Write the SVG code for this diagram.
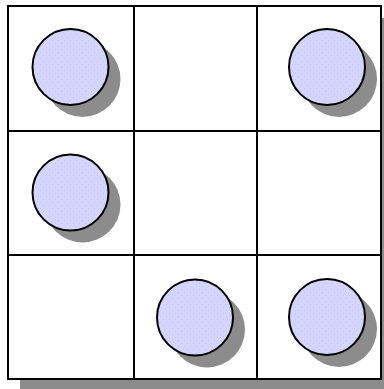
<svg xmlns="http://www.w3.org/2000/svg" width="384" height="389" viewBox="0 0 384 389">
  <style>
    .grid { fill: none; stroke: #000; stroke-width: 2; }
    .shadow { fill: #8c8c8c; }
    .disc { fill: url(#dots); stroke: #000; stroke-width: 2; }
  </style>
  <defs>
    <pattern id="dots" width="6" height="6" patternUnits="userSpaceOnUse">
      <rect width="6" height="6" fill="#d4d4fc"/>
      <rect x="1" y="1" width="1" height="1" fill="#b8ccf4"/>
      <rect x="4" y="4" width="1" height="1" fill="#b8ccf4"/>
    </pattern>
  </defs>
  <rect width="384" height="389" fill="#fff"/>
  <g id="board-shadow">
    <rect class="shadow" x="20" y="18" width="373" height="373"/>
  </g>
  <g id="board">
    <rect x="8" y="6" width="373" height="373" fill="#fff"/>
    <rect class="grid" x="8" y="6" width="373" height="373"/>
    <line class="grid" x1="134" y1="6" x2="134" y2="379"/>
    <line class="grid" x1="257" y1="6" x2="257" y2="379"/>
    <line class="grid" x1="8" y1="131" x2="381" y2="131"/>
    <line class="grid" x1="8" y1="255" x2="381" y2="255"/>
  </g>
  <g id="disc-r0c0">
    <circle class="shadow" cx="82.5" cy="79" r="38"/>
    <circle class="disc" cx="70.5" cy="67" r="38"/>
  </g>
  <g id="disc-r0c2">
    <circle class="shadow" cx="339" cy="79" r="38"/>
    <circle class="disc" cx="327" cy="67" r="38"/>
  </g>
  <g id="disc-r1c0">
    <circle class="shadow" cx="82.5" cy="204.5" r="38"/>
    <circle class="disc" cx="70.5" cy="192.5" r="38"/>
  </g>
  <g id="disc-r2c1">
    <circle class="shadow" cx="207" cy="329.5" r="38"/>
    <circle class="disc" cx="195" cy="317.5" r="38"/>
  </g>
  <g id="disc-r2c2">
    <circle class="shadow" cx="339" cy="329" r="38"/>
    <circle class="disc" cx="327" cy="317" r="38"/>
  </g>
</svg>
